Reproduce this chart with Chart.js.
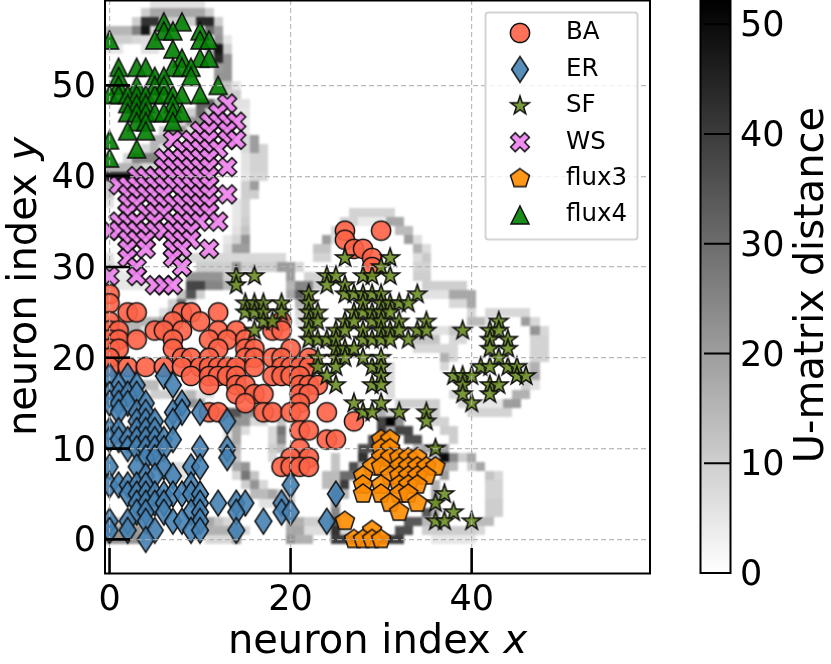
<!DOCTYPE html>
<html>
<head>
<meta charset="utf-8">
<script src="https://cdn.jsdelivr.net/npm/chart.js@4"></script>
<style>
  body { margin: 0; background: white; }
</style>
</head>
<body>
<canvas id="som-umatrix" width="831" height="664"></canvas>
<script>
const classNames = ["BA", "ER", "SF", "WS", "flux3", "flux4"];
const xTickValues = [0, 20, 40];
const yTickValues = [0, 10, 20, 30, 40, 50];
const barTickValues = [0, 10, 20, 30, 40, 50];

// [neuron x, neuron y]
const pointsBA = [
  [0,27],[0,26],[2,25],[3,25],[8,25],[9,25],[12,25],[0,24],[7,24],[10,24],[19,24],
  [0,23],[1,23],[5,23],[6,23],[8,23],[12,23],[14,23],[18,23],[19,23],
  [0,22],[1,22],[3,22],[7,22],[11,22],[13,22],[15,22],
  [0,21],[1,21],[7,21],[12,21],[15,21],[16,21],[20,21],
  [0,20],[8,20],[9,20],[11,20],[15,20],[16,20],[18,20],[19,20],[22,20],
  [0,19],[2,19],[4,19],[6,19],[8,19],[10,19],[11,19],[12,19],[13,19],[14,19],[16,19],[19,19],[20,19],[21,19],[22,19],
  [9,18],[11,18],[12,18],[13,18],[14,18],[18,18],[19,18],[20,18],[21,18],
  [11,17],[14,17],[15,17],[21,17],[22,17],[23,17],
  [14,16],[16,16],[17,16],[21,16],[22,16],
  [15,15],[21,15],
  [11,14],[12,14],[17,14],[18,14],[20,14],[21,14],[24,14],
  [27,13],[21,12],[22,12],[24,11],[25,11],[21,10],
  [20,9],[22,9],[19,8],[20,8],[21,8],[22,8],
  [26,34],[30,34],[26,33],[27,32],[28,32],[29,31],[29,30]
];
const pointsER = [
  [0,18],[2,18],[6,18],[1,17],[3,17],[7,17],[0,16],[1,16],[2,16],[3,16],
  [0,15],[1,15],[2,15],[4,15],[8,15],[1,14],[3,14],[4,14],[7,14],[8,14],[10,14],
  [3,13],[4,13],[5,13],[7,13],[13,13],[0,12],[1,12],[3,12],[4,12],[5,12],
  [0,11],[1,11],[2,11],[3,11],[4,11],[5,11],[6,11],[7,11],
  [2,10],[3,10],[4,10],[5,10],[6,10],[10,10],[13,10],[4,9],[5,9],[13,9],
  [0,8],[3,8],[6,8],[9,8],[10,8],[4,7],[5,7],[7,7],
  [0,6],[1,6],[2,6],[3,6],[4,6],[9,6],[20,6],
  [2,5],[3,5],[4,5],[5,5],[6,5],[7,5],[8,5],[9,5],[10,5],[25,5],
  [3,4],[4,4],[5,4],[6,4],[10,4],[12,4],[14,4],[15,4],[19,4],
  [3,3],[4,3],[6,3],[9,3],[10,3],[14,3],[19,3],[20,3],
  [0,2],[2,2],[4,2],[7,2],[8,2],[10,2],[17,2],[24,2],
  [0,1],[2,1],[5,1],[9,1],[10,1],[14,1],[4,0]
];
const pointsSF = [
  [14,29],[16,29],[14,28],[15,26],[16,26],[17,26],[19,26],[15,25],[16,25],[17,25],[19,25],[17,24],[18,24],[16,23],
  [26,31],[31,31],[30,30],[24,29],[25,29],[28,29],[29,29],[31,29],[24,28],[26,28],
  [22,27],[26,27],[27,27],[28,27],[29,27],[30,27],[34,27],
  [22,26],[28,26],[30,26],[31,26],[32,26],[33,26],
  [22,25],[23,25],[27,25],[28,25],[29,25],[30,25],[31,25],
  [22,24],[23,24],[26,24],[27,24],[29,24],[30,24],[32,24],[35,24],[43,24],
  [22,23],[25,23],[26,23],[28,23],[30,23],[31,23],[32,23],[34,23],[35,23],[39,23],[42,23],[43,23],
  [22,22],[23,22],[24,22],[25,22],[28,22],[29,22],[30,22],[31,22],[33,22],[42,22],[44,22],
  [25,21],[26,21],[27,21],[42,21],[44,21],
  [23,20],[25,20],[26,20],[28,20],[30,20],[43,20],
  [23,19],[25,19],[29,19],[30,19],[41,19],[42,19],[44,19],[45,19],
  [24,18],[30,18],[38,18],[39,18],[40,18],[45,18],[46,18],
  [25,17],[29,17],[30,17],[39,17],[42,17],[43,17],[39,16],[42,16],
  [27,15],[30,15],[40,15],[28,14],[29,14],[32,14],[35,14],[35,13],[36,10],
  [37,5],[36,4],[38,3],[36,2],[37,2],[40,2]
];
const pointsWS = [
  [13,48],[12,47],[11,46],[12,46],[13,46],[14,46],[10,45],[11,45],[13,45],
  [7,44],[9,44],[10,44],[11,44],[13,44],[14,44],[8,43],[9,43],[10,43],[11,43],[12,43],
  [6,42],[7,42],[8,42],[9,42],[10,42],[11,42],[6,41],[7,41],[8,41],[9,41],[10,41],[11,41],[13,41],
  [3,40],[4,40],[5,40],[6,40],[7,40],[8,40],[9,40],[10,40],[11,40],
  [1,39],[2,39],[3,39],[4,39],[5,39],[6,39],[7,39],[8,39],[9,39],[10,39],[11,39],
  [2,38],[3,38],[4,38],[5,38],[6,38],[8,38],[9,38],[10,38],[11,38],[13,38],
  [2,37],[3,37],[5,37],[6,37],[7,37],[8,37],[9,37],[10,37],[11,37],
  [2,36],[4,36],[5,36],[6,36],[8,36],[9,36],[10,36],[11,36],
  [1,35],[2,35],[3,35],[5,35],[7,35],[8,35],[9,35],[10,35],[12,35],
  [0,34],[1,34],[2,34],[3,34],[4,34],[5,34],[6,34],[7,34],[8,34],[9,34],
  [2,33],[3,33],[4,33],[7,33],[8,33],[9,33],[2,32],[4,32],[7,32],[8,32],[11,32],
  [2,31],[7,31],[3,30],[8,30],[0,29],[3,29],[5,28],[6,28],[7,28]
];
const pointsFlux3 = [
  [30,11],[31,11],[30,10],[31,10],[30,9],[31,9],[32,9],[33,9],[34,9],
  [29,8],[30,8],[32,8],[33,8],[34,8],[35,8],[36,8],
  [28,7],[31,7],[32,7],[33,7],[34,7],[35,7],
  [28,6],[30,6],[32,6],[33,6],[34,6],[28,5],[30,5],[32,5],[33,5],
  [31,4],[34,4],[32,3],[26,2],[29,1],[27,0],[28,0],[29,0],[30,0]
];
const pointsFlux4 = [
  [0,55],[6,57],[8,57],[6,56],[7,56],[10,56],[5,55],[10,55],[11,55],[7,54],
  [8,53],[10,53],[11,53],[1,52],[3,52],[4,52],[7,52],[8,52],[9,52],
  [1,51],[5,51],[6,51],[9,51],[12,50],[1,50],[3,50],[5,50],[6,50],
  [0,49],[1,49],[2,49],[3,49],[4,49],[5,49],[6,49],[7,49],[8,49],[10,49],
  [2,48],[3,48],[4,48],[7,48],[2,47],[3,47],[4,47],[5,47],[6,47],[7,47],[8,47],
  [3,46],[4,46],[7,46],[2,45],[4,45],[0,44],[3,43],[0,42]
];

// U-matrix, sparse: [row, first column, last column, distance]; empty cells are near zero
const uMatrixRuns = [
  [59,5,10,6],[58,4,4,10],[58,5,10,18],[58,11,11,10],
  [57,3,3,10],[57,4,5,42],[57,6,9,10],[57,10,11,44],[57,12,12,10],
  [56,0,2,15],[56,3,3,26],[56,4,4,48],[56,5,6,8],[56,11,11,30],[56,12,12,20],
  [55,0,2,10],[55,3,3,8],[55,4,5,7],[55,12,12,22],[55,13,13,5],
  [54,0,1,5],[54,4,5,6],[54,11,11,14],[54,12,12,48],[54,13,13,10],[53,11,11,10],[53,12,12,44],[53,13,13,22],[52,12,12,20],[52,13,13,22],
  [51,12,13,22],[50,12,12,10],[50,13,13,12],[50,14,14,5],[49,13,14,10],[48,10,11,32],[48,12,12,12],[48,14,15,6],[47,9,9,10],[47,10,10,30],[47,11,11,10],[47,14,15,5],
  [46,8,8,8],[46,9,10,22],[46,15,15,4],[45,6,6,10],[45,7,8,22],[45,9,9,6],[45,15,15,5],[44,5,6,15],[44,15,15,8],[44,16,16,20],
  [43,4,4,8],[43,5,5,15],[43,6,6,6],[43,15,15,8],[43,16,16,20],[43,17,17,9],[42,2,2,8],[42,3,5,25],[42,15,15,6],[42,16,17,9],[41,0,3,15],[41,4,5,8],[41,15,15,6],[41,16,17,9],
  [40,0,2,45],[40,3,3,35],[40,4,4,10],[40,15,15,5],[40,16,17,8],[39,0,0,12],[39,1,2,6],[39,15,15,10],[39,16,16,20],
  [38,0,0,10],[38,15,16,10],[37,0,0,6],[37,15,15,9],[37,14,14,5],[36,15,15,9],[36,14,14,5],[35,15,15,10],[35,14,14,5],[34,14,14,6],[34,15,15,12],
  [33,13,13,5],[33,14,14,9],[33,15,15,22],[32,13,13,7],[32,14,15,20],
  [31,0,0,6],[31,7,19,8],
  [30,0,0,8],[30,1,1,4],[30,10,13,10],[30,14,14,22],[30,15,18,10],[30,19,20,20],[30,21,21,8],
  [29,0,3,5],[29,9,12,22],[29,13,13,10],[29,20,20,20],[29,22,23,9],
  [28,0,3,5],[28,4,6,4],[28,9,10,38],[28,11,12,25],[28,13,14,15],[28,20,20,15],[28,21,22,25],[28,23,23,10],
  [27,8,8,12],[27,9,9,35],[27,10,10,10],[27,20,20,18],[27,21,21,32],[27,22,22,15],
  [26,7,7,10],[26,8,8,30],[26,9,9,6],[26,21,21,15],[25,6,6,7],[25,7,7,14],[25,21,21,8],
  [24,2,5,15],[24,6,7,20],[24,1,1,8],[24,21,21,6],[23,0,3,15],[23,4,4,6],[22,0,2,5],[17,4,5,14],[17,3,3,7],[16,5,8,10],[16,9,9,15],[15,8,9,22],[15,10,10,18],[16,10,11,6],
  [14,11,12,20],[14,13,14,35],[14,15,16,22],[14,17,19,12],[13,13,13,10],[13,14,15,22],[13,16,17,8],[13,19,19,12],
  [12,14,14,18],[12,13,13,6],[12,15,15,7],[12,19,19,28],[12,18,18,8],[11,14,14,18],[11,13,13,6],[11,18,18,8],[11,19,19,24],[10,14,14,14],[10,18,18,10],[10,19,19,14],
  [9,14,14,12],[9,18,18,8],[8,6,8,7],[8,14,14,18],[8,15,15,22],[7,6,8,6],[7,14,14,8],[7,15,15,28],[7,16,16,12],[6,15,15,10],[6,16,16,22],[6,17,17,8],
  [5,16,17,14],[5,18,18,18],[5,19,20,10],[4,17,19,6],[4,20,20,12],[3,20,20,10],
  [2,0,3,10],[2,11,11,18],[2,12,12,12],[2,13,13,8],[2,20,21,16],[2,22,24,10],
  [1,0,3,20],[1,4,5,8],[1,11,14,16],[1,14,14,20],[1,15,15,8],[1,20,21,18],[1,22,24,7],
  [0,0,3,22],[0,4,4,8],[0,11,13,8],[0,14,14,20],[0,20,20,22],[0,21,22,16],
  // ring round the upper BA group
  [36,27,31,9],[35,26,27,9],[35,31,32,18],[35,28,30,4],[34,25,25,8],[34,32,33,14],[33,24,24,20],[33,25,25,6],[33,33,33,20],[33,34,34,7],[32,23,24,12],[32,34,34,16],[32,35,35,7],
  [31,23,24,9],[31,34,34,7],[31,35,35,11],[30,34,35,9],[29,34,35,10],[28,35,39,10],[27,35,37,6],[27,38,40,18],[26,38,39,8],[26,40,40,18],
  [25,40,40,8],[25,42,46,8],[24,40,41,14],[24,42,42,6],[24,46,46,20],[24,47,47,8],[23,34,34,10],[23,35,37,6],[23,38,39,12],[23,47,47,22],[23,48,48,8],
  [22,34,36,12],[22,38,39,8],[22,47,48,9],[21,34,38,8],[21,47,48,9],[20,37,37,16],[20,38,38,8],[20,47,48,9],
  [19,37,37,8],[19,46,46,8],[19,47,47,16],[18,47,47,18],[18,46,46,8],[17,46,46,10],[17,47,47,6],[16,38,38,8],[16,45,46,16],
  [15,39,40,8],[15,44,45,20],[15,41,43,5],[14,40,44,9],[15,32,36,10],[14,31,32,8],[14,35,36,10],[13,36,37,9],[12,37,38,10],[11,38,38,10],
  [19,31,31,7],[18,31,31,7],[17,31,31,7],[16,31,31,7],
  // ring round flux3
  [14,30,30,16],[13,30,30,38],[13,31,31,52],[13,32,32,22],[12,30,30,40],[12,31,31,18],[12,32,33,38],
  [11,29,30,36],[11,33,34,36],[10,28,29,36],[10,34,34,14],[10,35,35,18],[10,36,36,36],[10,37,37,20],
  [9,25,25,12],[9,28,28,42],[9,36,36,12],[9,37,37,50],[9,38,38,24],[9,39,39,10],[9,40,40,18],
  [8,25,25,12],[8,27,27,36],[8,28,28,14],[8,37,37,16],[8,38,38,14],[8,41,41,18],[8,40,40,10],[7,24,25,14],[7,26,27,30],[7,37,37,20],[7,42,42,12],[7,43,43,8],
  [6,24,25,14],[6,26,26,40],[6,36,36,16],[6,42,43,9],[5,25,25,25],[5,26,26,15],[5,36,36,18],[5,42,43,9],[4,25,25,20],[4,36,36,22],[4,42,43,10],
  [3,25,25,25],[3,35,35,34],[3,36,36,16],[3,42,43,10],[2,25,25,35],[2,33,34,34],[2,35,35,14],[2,41,42,14],
  [1,25,25,42],[1,26,26,8],[1,32,33,36],[1,35,40,10],[1,41,41,8],[0,25,32,40],[0,36,40,5]
];
const barMax = 52.2;

function outlined(points, color) {
  const c = document.createElement("canvas");
  c.width = 34;
  c.height = 34;
  const g = c.getContext("2d");
  g.translate(17, 17);
  g.beginPath();
  points.forEach((p, i) => (i ? g.lineTo(p[0], p[1]) : g.moveTo(p[0], p[1])));
  g.closePath();
  g.globalAlpha = 0.9;
  g.fillStyle = color;
  g.fill();
  g.globalAlpha = 1;
  g.lineWidth = 1.5;
  g.lineJoin = "miter";
  g.strokeStyle = "#111";
  g.stroke();
  return c;
}

function ring(count, r, inner) {
  const pts = [];
  const total = inner ? count * 2 : count;
  for (let i = 0; i < total; i++) {
    const a = -Math.PI / 2 + (i * 2 * Math.PI) / total;
    const rad = inner && i % 2 ? inner : r;
    pts.push([rad * Math.cos(a), rad * Math.sin(a)]);
  }
  return pts;
}

const markers = [
  outlined(ring(40, 9.6), "#ff6347"),
  outlined([[0, -12.8], [8.4, 0], [0, 12.8], [-8.4, 0]], "#4682b4"),
  outlined(ring(5, 9.8, 3.8), "#6b8e23"),
  outlined(
    [[-4.7,-9.4],[0,-4.7],[4.7,-9.4],[9.4,-4.7],[4.7,0],[9.4,4.7],[4.7,9.4],[0,4.7],[-4.7,9.4],[-9.4,4.7],[-4.7,0],[-9.4,-4.7]],
    "#ee82ee"
  ),
  outlined(ring(5, 10), "#ff8c00"),
  outlined([[0, -9], [9, 9], [-9, 9]], "#008000"),
];

const allPoints = [pointsBA, pointsER, pointsSF, pointsWS, pointsFlux3, pointsFlux4];

const uMatrixLayer = {
  id: "uMatrixLayer",
  beforeDatasetsDraw(chart) {
    const { ctx, chartArea, scales } = chart;
    const off = document.createElement("canvas");
    off.width = chart.width;
    off.height = chart.height;
    const g = off.getContext("2d");
    uMatrixRuns.forEach(([row, from, to, v]) => {
      const shade = Math.round(255 * (1 - v / barMax));
      g.fillStyle = `rgb(${shade},${shade},${shade})`;
      const left = Math.round(scales.x.getPixelForValue(from - 0.5));
      const right = Math.round(scales.x.getPixelForValue(to + 0.5));
      const top = Math.round(scales.y.getPixelForValue(row + 0.5));
      const bottom = Math.round(scales.y.getPixelForValue(row - 0.5));
      g.fillRect(left, top, right - left, bottom - top);
    });
    ctx.save();
    ctx.beginPath();
    ctx.rect(chartArea.left, chartArea.top, chartArea.width, chartArea.height);
    ctx.clip();
    ctx.filter = "blur(0.8px)";
    ctx.drawImage(off, 0, 0);
    ctx.restore();
  },
};

const overlay = {
  id: "overlay",
  afterDraw(chart) {
    const { ctx, chartArea: a, scales } = chart;
    ctx.save();

    // inward ticks
    ctx.strokeStyle = "black";
    ctx.lineWidth = 2.6;
    ctx.beginPath();
    xTickValues.forEach((v) => {
      const px = scales.x.getPixelForValue(v);
      ctx.moveTo(px, a.bottom);
      ctx.lineTo(px, a.bottom - 25);
    });
    yTickValues.forEach((v) => {
      const py = scales.y.getPixelForValue(v);
      ctx.moveTo(a.left, py);
      ctx.lineTo(a.left + 25, py);
    });
    ctx.stroke();

    // legend
    ctx.beginPath();
    ctx.roundRect(485.5, 12.5, 152, 227, 3);
    ctx.fillStyle = "rgba(255,255,255,0.8)";
    ctx.fill();
    ctx.strokeStyle = "#d4d4d4";
    ctx.lineWidth = 2;
    ctx.stroke();
    ctx.font = "24.5px 'DejaVu Sans'";
    ctx.fillStyle = "black";
    ctx.textBaseline = "middle";
    ctx.textAlign = "left";
    classNames.forEach((name, i) => {
      const rowY = 33 + i * 36.4;
      ctx.drawImage(markers[i], 520 - 17, rowY - 17);
      ctx.fillText(name, 566, rowY);
    });

    // frame
    ctx.strokeStyle = "black";
    ctx.lineWidth = 2;
    ctx.strokeRect(a.left, a.top + 0.5, a.width, a.height);

    // colour bar, on the y2 scale
    const barTop = scales.y2.getPixelForValue(barMax);
    const barBottom = scales.y2.getPixelForValue(0);
    const grad = ctx.createLinearGradient(0, barBottom, 0, barTop);
    grad.addColorStop(0, "white");
    grad.addColorStop(1, "black");
    ctx.fillStyle = grad;
    ctx.fillRect(700, barTop, 30, barBottom - barTop);
    ctx.lineWidth = 2;
    ctx.beginPath();
    barTickValues.forEach((v) => {
      const py = scales.y2.getPixelForValue(v);
      ctx.moveTo(704, py);
      ctx.lineTo(730, py);
    });
    ctx.stroke();
    ctx.strokeRect(700.5, barTop, 30, barBottom - barTop);

    // axis titles, last letter in italics
    ctx.fillStyle = "black";
    ctx.textBaseline = "alphabetic";
    const title = (word, letter) => {
      ctx.font = "40px 'DejaVu Sans'";
      const w1 = ctx.measureText(word).width;
      ctx.font = "italic 40px 'DejaVu Sans'";
      const w2 = ctx.measureText(letter).width;
      ctx.textAlign = "left";
      ctx.font = "40px 'DejaVu Sans'";
      ctx.fillText(word, -(w1 + w2) / 2, 0);
      ctx.font = "italic 40px 'DejaVu Sans'";
      ctx.fillText(letter, -(w1 + w2) / 2 + w1, 0);
    };
    ctx.save();
    ctx.translate((a.left + a.right) / 2, 653);
    title("neuron index ", "x");
    ctx.restore();
    ctx.save();
    ctx.translate(36, (a.top + a.bottom) / 2);
    ctx.rotate(-Math.PI / 2);
    title("neuron index ", "y");
    ctx.restore();
    ctx.save();
    ctx.translate(823, 285);
    ctx.rotate(-Math.PI / 2);
    title("U-matrix distance", "");
    ctx.restore();
    ctx.restore();
  },
};

function flatPadding(scale) {
  scale.paddingTop = 0;
  scale.paddingBottom = 0;
  scale.paddingLeft = 0;
  scale.paddingRight = 0;
}

const tickFont = { family: "'DejaVu Sans'", size: 35 };
const gridStyle = { z: 1, color: "rgba(175,175,175,0.85)", lineWidth: 1.2, drawTicks: false };

new Chart(document.getElementById("som-umatrix"), {
  type: "scatter",
  data: {
    datasets: classNames.map((name, i) => ({
      label: name,
      data: allPoints[i].map((p) => ({ x: p[0], y: p[1] })),
      pointStyle: markers[i],
      order: classNames.length - i,
    })),
  },
  options: {
    responsive: false,
    animation: false,
    layout: { padding: 0, autoPadding: false },
    plugins: {
      legend: { display: false },
      tooltip: { enabled: false },
    },
    scales: {
      x: {
        type: "linear",
        min: -0.5,
        max: 59.7,
        grid: gridStyle,
        border: { display: false, dash: [5, 3] },
        ticks: { font: tickFont, color: "black", padding: 7, maxRotation: 0 },
        afterBuildTicks: (s) => (s.ticks = xTickValues.map((value) => ({ value }))),
        afterFit: (s) => {
          s.height = 91;
          flatPadding(s);
        },
      },
      y: {
        type: "linear",
        min: -3.7,
        max: 59.4,
        grid: gridStyle,
        border: { display: false, dash: [5, 3] },
        ticks: { font: tickFont, color: "black", padding: 9, labelOffset: 3 },
        afterBuildTicks: (s) => (s.ticks = yTickValues.map((value) => ({ value }))),
        afterFit: (s) => {
          s.width = 105;
          flatPadding(s);
        },
      },
      y2: {
        type: "linear",
        position: "right",
        min: 0,
        max: barMax,
        grid: { display: false, drawTicks: false },
        border: { display: false },
        ticks: { font: tickFont, color: "black", padding: 90, labelOffset: 3 },
        afterBuildTicks: (s) => (s.ticks = barTickValues.map((value) => ({ value }))),
        afterFit: (s) => {
          s.width = 181;
          flatPadding(s);
        },
      },
    },
  },
  plugins: [uMatrixLayer, overlay],
});
</script>
</body>
</html>
